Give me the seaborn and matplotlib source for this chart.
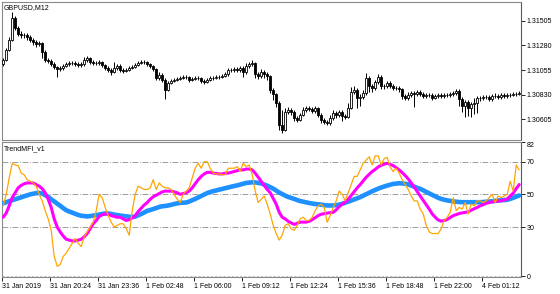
import numpy as np
import pandas as pd
import matplotlib
matplotlib.use("Agg")
import matplotlib.pyplot as plt
import seaborn as sns

symbol_title = "GBPUSD,M12"
indicator_title = "TrendMFI_v1"

first_open = 1.31110
close = [1.31147, 1.31239, 1.31331, 1.31533, 1.31441, 1.31386, 1.31377, 1.31377, 1.31358, 1.31331,
         1.31312, 1.31294, 1.31303, 1.31220, 1.31147, 1.31138, 1.31110, 1.31083, 1.31064, 1.31074,
         1.31092, 1.31110, 1.31119, 1.31119, 1.31110, 1.31101, 1.31110, 1.31147, 1.31165, 1.31129,
         1.31119, 1.31119, 1.31129, 1.31101, 1.31074, 1.31055, 1.31037, 1.31074, 1.31092, 1.31055,
         1.31046, 1.31055, 1.31074, 1.31083, 1.31101, 1.31119, 1.31129, 1.31129, 1.31110, 1.31092,
         1.31064, 1.30982, 1.31009, 1.30963, 1.30872, 1.30936, 1.30954, 1.30963, 1.30973, 1.30982,
         1.30991, 1.30991, 1.30963, 1.30973, 1.30982, 1.30982, 1.30954, 1.30945, 1.30963, 1.30982,
         1.30982, 1.30991, 1.30991, 1.31000, 1.31018, 1.31055, 1.31055, 1.31064, 1.31055, 1.31074,
         1.31037, 1.31092, 1.31110, 1.31119, 1.31018, 1.31000, 1.31037, 1.31018, 1.31000, 1.30872,
         1.30835, 1.30752, 1.30550, 1.30504, 1.30670, 1.30688, 1.30670, 1.30615, 1.30596, 1.30642,
         1.30688, 1.30706, 1.30697, 1.30679, 1.30706, 1.30642, 1.30596, 1.30578, 1.30569, 1.30615,
         1.30661, 1.30642, 1.30670, 1.30633, 1.30624, 1.30706, 1.30853, 1.30872, 1.30798, 1.30807,
         1.30844, 1.30982, 1.30908, 1.30890, 1.30945, 1.30991, 1.30908, 1.30908, 1.30936, 1.30908,
         1.30890, 1.30890, 1.30881, 1.30817, 1.30798, 1.30826, 1.30844, 1.30835, 1.30853, 1.30835,
         1.30817, 1.30826, 1.30826, 1.30798, 1.30817, 1.30826, 1.30817, 1.30826, 1.30826, 1.30835,
         1.30844, 1.30862, 1.30789, 1.30725, 1.30761, 1.30706, 1.30743, 1.30752, 1.30798, 1.30798,
         1.30807, 1.30807, 1.30789, 1.30817, 1.30817, 1.30807, 1.30826, 1.30817, 1.30826, 1.30826,
         1.30835, 1.30835, 1.30844]
high = [1.31165, 1.31257, 1.31358, 1.31588, 1.31551, 1.31459, 1.31413, 1.31395, 1.31395, 1.31377,
        1.31349, 1.31331, 1.31321, 1.31312, 1.31239, 1.31165, 1.31156, 1.31129, 1.31092, 1.31092,
        1.31110, 1.31129, 1.31138, 1.31138, 1.31138, 1.31129, 1.31129, 1.31175, 1.31184, 1.31175,
        1.31147, 1.31138, 1.31147, 1.31138, 1.31110, 1.31092, 1.31074, 1.31129, 1.31110, 1.31110,
        1.31074, 1.31074, 1.31092, 1.31101, 1.31119, 1.31138, 1.31147, 1.31147, 1.31138, 1.31119,
        1.31101, 1.31074, 1.31037, 1.31028, 1.30982, 1.30954, 1.30973, 1.30982, 1.30991, 1.31000,
        1.31009, 1.31009, 1.31000, 1.30991, 1.31000, 1.31000, 1.30991, 1.30973, 1.30982, 1.31000,
        1.31000, 1.31009, 1.31009, 1.31018, 1.31037, 1.31074, 1.31074, 1.31083, 1.31083, 1.31092,
        1.31092, 1.31119, 1.31129, 1.31147, 1.31129, 1.31037, 1.31064, 1.31055, 1.31037, 1.31009,
        1.30890, 1.30844, 1.30771, 1.30688, 1.30706, 1.30716, 1.30706, 1.30688, 1.30633, 1.30661,
        1.30716, 1.30725, 1.30725, 1.30716, 1.30725, 1.30716, 1.30661, 1.30615, 1.30596, 1.30642,
        1.30688, 1.30679, 1.30688, 1.30688, 1.30651, 1.30752, 1.30899, 1.30908, 1.30890, 1.30835,
        1.30872, 1.31028, 1.31000, 1.30927, 1.30963, 1.31018, 1.31009, 1.30927, 1.30954, 1.30954,
        1.30927, 1.30908, 1.30908, 1.30890, 1.30835, 1.30853, 1.30862, 1.30862, 1.30872, 1.30872,
        1.30853, 1.30844, 1.30844, 1.30844, 1.30835, 1.30844, 1.30844, 1.30844, 1.30844, 1.30853,
        1.30862, 1.30881, 1.30881, 1.30807, 1.30780, 1.30780, 1.30761, 1.30798, 1.30817, 1.30817,
        1.30826, 1.30826, 1.30826, 1.30835, 1.30844, 1.30835, 1.30844, 1.30844, 1.30844, 1.30844,
        1.30853, 1.30853, 1.30862]
low = [1.31092, 1.31138, 1.31230, 1.31321, 1.31422, 1.31367, 1.31349, 1.31349, 1.31331, 1.31312,
       1.31285, 1.31266, 1.31276, 1.31165, 1.31129, 1.31119, 1.31092, 1.31064, 1.30991, 1.31046,
       1.31055, 1.31083, 1.31092, 1.31101, 1.31092, 1.31083, 1.31083, 1.31092, 1.31129, 1.31110,
       1.31101, 1.31101, 1.31101, 1.31083, 1.31055, 1.31037, 1.31009, 1.31028, 1.31055, 1.31037,
       1.31028, 1.31037, 1.31046, 1.31064, 1.31074, 1.31092, 1.31110, 1.31110, 1.31092, 1.31074,
       1.31046, 1.30963, 1.30963, 1.30945, 1.30789, 1.30862, 1.30927, 1.30945, 1.30954, 1.30963,
       1.30973, 1.30973, 1.30945, 1.30954, 1.30963, 1.30963, 1.30936, 1.30927, 1.30936, 1.30954,
       1.30963, 1.30973, 1.30973, 1.30982, 1.30991, 1.31000, 1.31037, 1.31037, 1.31037, 1.31037,
       1.30991, 1.31018, 1.31074, 1.31092, 1.30982, 1.30973, 1.30982, 1.30982, 1.30963, 1.30844,
       1.30780, 1.30716, 1.30504, 1.30477, 1.30495, 1.30651, 1.30642, 1.30587, 1.30578, 1.30587,
       1.30633, 1.30670, 1.30679, 1.30661, 1.30661, 1.30624, 1.30569, 1.30559, 1.30550, 1.30550,
       1.30596, 1.30615, 1.30624, 1.30587, 1.30605, 1.30615, 1.30697, 1.30835, 1.30706, 1.30725,
       1.30789, 1.30826, 1.30853, 1.30853, 1.30872, 1.30927, 1.30881, 1.30881, 1.30890, 1.30890,
       1.30872, 1.30872, 1.30853, 1.30789, 1.30780, 1.30780, 1.30807, 1.30716, 1.30817, 1.30817,
       1.30798, 1.30798, 1.30807, 1.30780, 1.30789, 1.30798, 1.30798, 1.30798, 1.30807, 1.30807,
       1.30817, 1.30826, 1.30725, 1.30670, 1.30624, 1.30633, 1.30624, 1.30651, 1.30661, 1.30771,
       1.30780, 1.30789, 1.30771, 1.30771, 1.30798, 1.30789, 1.30789, 1.30798, 1.30798, 1.30807,
       1.30817, 1.30817, 1.30826]

mfi_fast = [43, 50, 60, 69, 68, 67.6, 63, 62, 59, 58,
            57, 55, 50, 46, 40, 35, 28, 12, 6, 7,
            12, 14, 17, 20, 23, 20, 18, 24, 27, 30,
            33, 40, 50, 48, 42, 37, 33, 30, 31, 32,
            32, 29, 25, 40, 50, 55, 54, 53, 53, 54,
            59, 53, 57, 55, 54, 54, 53, 50, 47, 45,
            50, 52, 54, 60, 66, 69, 66, 70, 70, 66,
            63, 62.5, 62.5, 62, 62, 66, 66, 66, 67, 64,
            69, 67, 68, 62, 52, 45, 47, 49, 44, 38,
            31, 26, 22, 25, 31, 32, 29, 28, 31, 35,
            36, 34, 34, 36, 40, 43, 44, 42, 33, 37,
            42, 46, 52, 50, 46, 51, 56, 61, 61, 65,
            69, 71, 73, 68, 73.6, 73.6, 68, 72, 72.6, 66.5,
            64, 66, 63, 59, 56, 53, 49, 46, 46, 41,
            38, 31, 27, 26, 26, 26, 29, 34, 36, 39,
            48, 40, 42, 41, 45, 38, 44, 43, 46, 46,
            45, 46, 48, 50, 45, 49, 48, 49, 50, 58,
            52, 68, 65]
mfi_signal = [36, 38.5, 43, 48, 51, 54, 55.5, 56.5, 57, 57,
              57, 56, 55, 53.5, 51, 47, 42, 35, 30, 27,
              24.5, 22.5, 22, 21.5, 21.5, 22, 22.5, 24, 26, 29,
              32, 34, 36.5, 37.5, 38, 38, 37, 36.5, 36, 36,
              35, 34, 34.5, 35.5, 37, 39.5, 41.5, 43.5, 45, 47,
              48.5, 49.5, 50.5, 51.5, 52, 52, 52, 51.5, 51, 50,
              50.5, 51, 52, 54, 56.5, 59, 61, 62.5, 63.5, 63.5,
              63, 62.8, 62.5, 62.5, 63, 63, 63.5, 64, 64.5, 65,
              65, 65.5, 65.5, 65, 63, 60.5, 58, 55.5, 53, 51,
              47.5, 44, 39, 36, 35, 33.5, 32.5, 31.6, 32.3, 33,
              33, 33, 33.5, 34.5, 35.7, 37, 37.8, 38.2, 38.5, 38.8,
              39, 40.5, 42.5, 44, 45.3, 47, 49.3, 51.5, 54, 56,
              58.3, 60.5, 62.3, 64, 65.3, 66.8, 67.8, 68.5, 69, 68.3,
              67.6, 66.3, 65, 63.3, 61.5, 59.5, 57, 54.5, 51.7, 49,
              46.3, 43.5, 41, 38, 36, 34.3, 33.6, 34, 34.6, 35.8,
              37, 37.6, 38.3, 38.6, 39, 39.3, 40.3, 41.2, 42, 43,
              43.7, 44.5, 45, 45.4, 45.7, 45.9, 46.1, 46.6, 47.1, 49,
              50.8, 53.5, 56]
mfi_trend = [44.5, 45.2, 45.8, 46.4, 47, 47.6, 48.2, 48.8, 49.4, 50,
             50.4, 50.7, 50.9, 50.5, 49.5, 48.5, 47, 45.7, 44.3, 43,
             41.6, 40.3, 39.5, 38.8, 38.1, 37.4, 36.9, 36.7, 36.5, 36.7,
             37, 37.3, 37.6, 38, 38.3, 38.3, 38, 37.6, 37.3, 37,
             36.8, 36.5, 36.3, 36.1, 36.4, 37.2, 38, 38.9, 39.9, 40.4,
             41, 41.6, 42.3, 42.7, 42.9, 43.2, 43.6, 44.1, 44.5, 44.8,
             44.9, 45, 45.6, 46.4, 47.2, 48.1, 49, 49.9, 50.8, 51.4,
             52, 52.4, 52.9, 53.3, 53.8, 54.2, 54.7, 55.1, 55.5, 56,
             56.5, 57, 57.2, 57.4, 57.3, 57, 56.7, 56, 55.3, 54.4,
             53.5, 52.3, 51.1, 50.2, 49.2, 48.4, 47.8, 47.2, 46.5, 45.9,
             45.5, 45.1, 44.7, 44.4, 44.1, 43.9, 43.7, 43.4, 43.2, 43.2,
             43.2, 43.4, 43.7, 44.2, 44.9, 45.5, 46.2, 46.9, 47.6, 48.3,
             49.2, 50.1, 51, 51.9, 52.7, 53.5, 54.2, 54.8, 55.4, 55.9,
             56.4, 56.6, 56.8, 56.7, 56.5, 56.1, 55.4, 54.7, 54, 53.4,
             52.5, 51.5, 50.6, 49.7, 48.8, 47.9, 47.2, 46.7, 46.3, 46,
             45.7, 45.5, 45.3, 45.2, 45.2, 45.2, 45.2, 45.2, 45.2, 45.2,
             45.3, 45.5, 45.6, 45.8, 46, 46.2, 46.4, 46.5, 46.7, 47.2,
             47.9, 48.6, 49.3]

time_labels = ["31 Jan 2019", "31 Jan 20:24", "31 Jan 23:36", "1 Feb 02:48", "1 Feb 06:00",
               "1 Feb 09:12", "1 Feb 12:24", "1 Feb 15:36", "1 Feb 18:48", "1 Feb 22:00",
               "4 Feb 01:12"]
bars_per_label = 16
price_ticks = [1.31505, 1.31280, 1.31055, 1.30830, 1.30605]
mfi_ticks = [82, 70, 50, 30, 0]
mfi_levels = [70, 50, 30]

n = len(close)
print(n, len(high), len(low), len(mfi_fast), len(mfi_signal), len(mfi_trend))

sns.set_theme(style="white")
plt.rcParams['font.family'] = ['Liberation Sans', 'DejaVu Sans']

W, H = 560, 294
fig = plt.figure(figsize=(W / 100, H / 100), dpi=100)
fig.patch.set_facecolor("white")
ax1 = fig.add_axes([2 / W, 1 - 140 / H, 519 / W, 138 / H])
ax2 = fig.add_axes([2 / W, 1 - 277 / H, 519 / W, 135 / H])

xs = np.arange(n)
o = np.array([first_open] + close[:-1])
c = np.array(close)
hi = np.array(high)
lo = np.array(low)
bull = c >= o
ax1.vlines(xs, lo, hi, color="black", lw=0.7, zorder=2)
ax1.bar(xs[bull], (c - o)[bull], bottom=o[bull], width=0.62, color="white",
        edgecolor="black", linewidth=0.6, zorder=3)
ax1.bar(xs[~bull], (c - o)[~bull], bottom=o[~bull], width=0.62, color="black",
        edgecolor="black", linewidth=0.6, zorder=3)

df = pd.DataFrame({"bar": xs, "fast": mfi_fast, "signal": mfi_signal, "trend": mfi_trend})
for lv in mfi_levels:
    ax2.axhline(lv, color="#8c8c8c", lw=0.6, ls=(0, (7, 2, 1, 2)), zorder=1)
ax2.axhline(0, color="#bdbdbd", lw=0.6, ls=(0, (3, 2)), zorder=1)
sns.lineplot(data=df, x="bar", y="trend", ax=ax2, color="#1E90FF", lw=3.3, zorder=3)
sns.lineplot(data=df, x="bar", y="signal", ax=ax2, color="#FF00FF", lw=2.2, zorder=4)
sns.lineplot(data=df, x="bar", y="fast", ax=ax2, color="#FFA500", lw=0.9, zorder=5)

for ax in (ax1, ax2):
    ax.set_xlim(-0.4, 172.6)
    ax.set_xlabel("")
    ax.set_ylabel("")
    ax.yaxis.tick_right()
    ax.tick_params(axis="y", which="both", right=True, left=False, direction="out",
                   length=3, width=0.6, pad=1, labelsize=5, colors="black")
    for s in ax.spines.values():
        s.set_visible(True)
        s.set_color("#8a8a8a")
        s.set_linewidth(0.8)
    ax.spines["right"].set_color("#5a5a5a")
    ax.grid(False)

ax1.set_ylim(1.30413, 1.31679)
ax1.set_yticks(price_ticks)
ax1.set_yticklabels([f"{p:.5f}" for p in price_ticks])
ax1.set_xticks([])

ax2.set_ylim(-0.6, 82.06)
ax2.set_yticks(mfi_ticks)
ax2.set_yticklabels([str(t) for t in mfi_ticks])
ax2.get_yticklabels()[0].set_va("top")
tick_pos = [k * bars_per_label - 0.4 for k in range(len(time_labels))]
ax2.set_xticks(tick_pos)
ax2.set_xticklabels(time_labels, ha="left", fontsize=5)
ax2.tick_params(axis="x", bottom=True, direction="out", length=3, width=0.6, pad=1.5,
                colors="black")

ax1.text(0.004, 0.985, symbol_title, transform=ax1.transAxes, ha="left", va="top",
         fontsize=5, color="black")
ax2.text(0.004, 0.975, indicator_title, transform=ax2.transAxes, ha="left", va="top",
         fontsize=5, color="black")

fig.savefig("out.png", dpi=100, facecolor="white")
